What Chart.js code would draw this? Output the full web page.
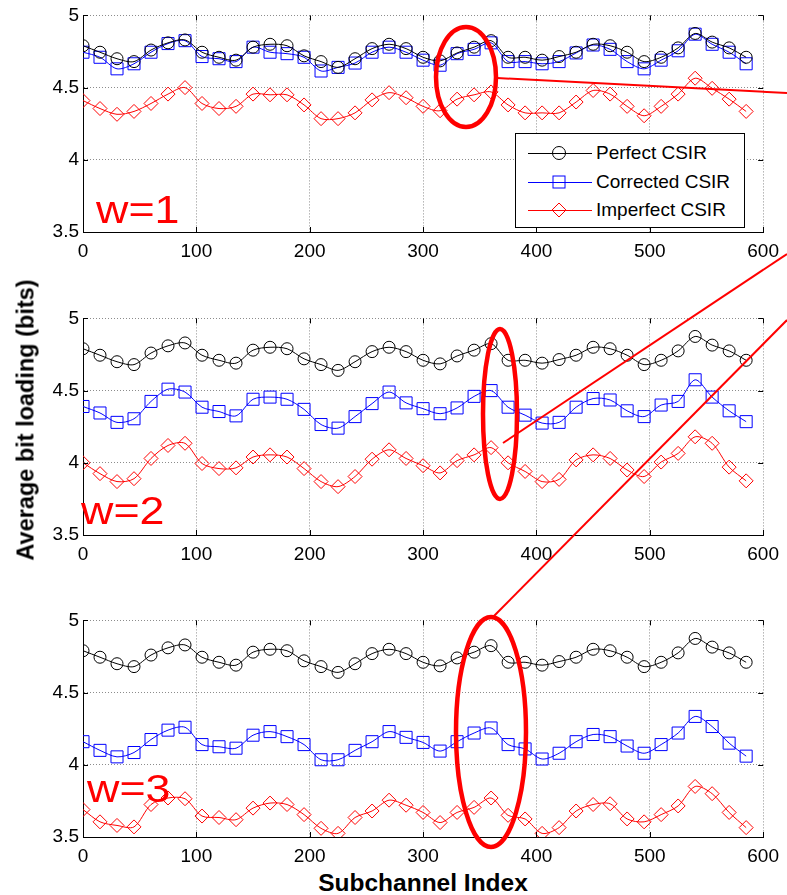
<!DOCTYPE html>
<html>
<head>
<meta charset="utf-8">
<script src="https://cdn.jsdelivr.net/npm/chart.js@4"></script>
<style>
    html, body { margin: 0; padding: 0; background: #fff; }
    body { width: 787px; height: 895px; position: relative; overflow: hidden; font-family: "Liberation Sans", Arial, sans-serif; }
    .plot { position: absolute; left: 0; width: 787px; height: 260px; }
    .wlabel { position: absolute; color: #ff0000; font-size: 38px; line-height: 1; transform: scaleX(1.18); transform-origin: left top; }
    #ylabel { position: absolute; left: 26px; top: 420px; transform: translate(-50%, -50%) rotate(-90deg); font-weight: bold; font-size: 23.5px; white-space: nowrap; }
    #xlabel { position: absolute; left: 423px; top: 883px; transform: translate(-50%, -50%); font-weight: bold; font-size: 24.5px; white-space: nowrap; }
    #legend { position: absolute; left: 515px; top: 133px; width: 228px; height: 93px; background: #fff; border: 1px solid #000; font-size: 19px; }
    #legend .row { position: absolute; left: 0; height: 20px; display: flex; align-items: center; white-space: nowrap; }
    #legend svg { margin-left: 12px; margin-right: 4px; }
    #notes { position: absolute; left: 0; top: 0; pointer-events: none; }
</style>
</head>
<body>
<div class="plot" style="top:0px"><canvas id="plot-w1"></canvas></div>
<div class="plot" style="top:303px"><canvas id="plot-w2"></canvas></div>
<div class="plot" style="top:605px"><canvas id="plot-w3"></canvas></div>

<div class="wlabel" style="left:96px; top:191px">w=1</div>
<div class="wlabel" style="left:81px; top:492px">w=2</div>
<div class="wlabel" style="left:87px; top:770px">w=3</div>

<div id="ylabel">Average bit loading (bits)</div>
<div id="xlabel">Subchannel Index</div>

<div id="legend"></div>

<svg id="notes" width="787" height="895">
    <g fill="none" stroke="#ff0000">
        <ellipse cx="466" cy="77" rx="30" ry="50" stroke-width="4.5"/>
        <line x1="497" y1="78" x2="787" y2="93" stroke-width="2"/>
        <ellipse cx="500" cy="414" rx="17" ry="85" stroke-width="4.5"/>
        <line x1="503" y1="443" x2="787" y2="254" stroke-width="2"/>
        <ellipse cx="491" cy="732" rx="35" ry="115" stroke-width="4.5"/>
        <line x1="493" y1="617" x2="787" y2="320" stroke-width="2"/>
    </g>
</svg>

<script>
// subchannel index of every marker
const subchannels = [
    0, 15, 30, 45, 60, 75, 90, 105, 120, 135,
    150, 165, 180, 195, 210, 225, 240, 255, 270, 285,
    300, 315, 330, 345, 360, 375, 390, 405, 420, 435,
    450, 465, 480, 495, 510, 525, 540, 555, 570, 585
];

const xTicks = [0, 100, 200, 300, 400, 500, 600];
const yTicks = [3.5, 4, 4.5, 5];

// perfect CSIR is the same in all three panels
const perfectCsir = [
    4.79, 4.745, 4.70, 4.68, 4.76, 4.81, 4.83, 4.745, 4.71, 4.69,
    4.78, 4.80, 4.79, 4.72, 4.68, 4.64, 4.70, 4.77, 4.80, 4.77,
    4.71, 4.685, 4.74, 4.78, 4.825, 4.71, 4.71, 4.69, 4.715, 4.745,
    4.80, 4.79, 4.745, 4.68, 4.71, 4.775, 4.875, 4.815, 4.775, 4.71
];

const correctedW1 = [
    4.745, 4.71, 4.63, 4.665, 4.745, 4.805, 4.825, 4.715, 4.70, 4.68,
    4.78, 4.745, 4.735, 4.71, 4.615, 4.64, 4.67, 4.745, 4.78, 4.745,
    4.69, 4.655, 4.735, 4.765, 4.81, 4.68, 4.68, 4.665, 4.68, 4.74,
    4.795, 4.765, 4.68, 4.63, 4.69, 4.755, 4.87, 4.80, 4.745, 4.665
];
const imperfectW1 = [
    4.41, 4.355, 4.315, 4.335, 4.39, 4.455, 4.50, 4.39, 4.355, 4.37,
    4.455, 4.45, 4.45, 4.38, 4.285, 4.285, 4.325, 4.415, 4.465, 4.43,
    4.37, 4.34, 4.42, 4.45, 4.47, 4.38, 4.325, 4.325, 4.325, 4.40,
    4.48, 4.455, 4.37, 4.305, 4.37, 4.455, 4.565, 4.495, 4.42, 4.335
];

const correctedW2 = [
    4.39, 4.345, 4.28, 4.305, 4.425, 4.51, 4.49, 4.385, 4.355, 4.325,
    4.44, 4.455, 4.44, 4.37, 4.265, 4.24, 4.32, 4.41, 4.49, 4.415,
    4.375, 4.34, 4.38, 4.46, 4.50, 4.385, 4.33, 4.275, 4.28, 4.385,
    4.445, 4.435, 4.36, 4.32, 4.40, 4.425, 4.575, 4.455, 4.36, 4.285
];
const imperfectW2 = [
    4.00, 3.925, 3.87, 3.89, 4.03, 4.12, 4.135, 3.995, 3.96, 3.965,
    4.04, 4.055, 4.04, 3.96, 3.87, 3.835, 3.905, 4.025, 4.09, 4.03,
    3.98, 3.93, 4.015, 4.055, 4.105, 4.00, 3.94, 3.87, 3.885, 4.02,
    4.055, 4.03, 3.95, 3.905, 4.005, 4.065, 4.18, 4.135, 3.97, 3.875
];

const correctedW3 = [
    4.16, 4.10, 4.055, 4.085, 4.175, 4.24, 4.26, 4.14, 4.125, 4.115,
    4.205, 4.23, 4.195, 4.14, 4.035, 4.035, 4.10, 4.16, 4.23, 4.19,
    4.155, 4.095, 4.16, 4.22, 4.255, 4.14, 4.11, 4.04, 4.08, 4.16,
    4.21, 4.195, 4.13, 4.08, 4.14, 4.22, 4.335, 4.265, 4.15, 4.06
];
const imperfectW3 = [
    3.69, 3.605, 3.58, 3.57, 3.725, 3.77, 3.765, 3.645, 3.635, 3.62,
    3.70, 3.735, 3.725, 3.655, 3.56, 3.525, 3.635, 3.68, 3.755, 3.72,
    3.67, 3.60, 3.67, 3.705, 3.77, 3.65, 3.625, 3.525, 3.565, 3.68,
    3.725, 3.73, 3.625, 3.605, 3.655, 3.715, 3.85, 3.80, 3.67, 3.565
];

const seriesStyles = [
    { label: 'Perfect CSIR', color: '#000000', pointStyle: 'circle', radius: 6 },
    { label: 'Corrected CSIR', color: '#0000ff', pointStyle: 'rect', radius: 8.5 },
    { label: 'Imperfect CSIR', color: '#ff0000', pointStyle: 'rectRot', radius: 7 }
];

const FONT = '"Liberation Sans", Arial, sans-serif';

// MATLAB-like small tick marks pointing into the box
const innerTicks = {
    id: 'innerTicks',
    afterDraw(chart) {
        const { ctx, chartArea: a, scales } = chart;
        ctx.save();
        ctx.strokeStyle = '#000';
        ctx.lineWidth = 1;
        ctx.beginPath();
        for (const v of xTicks) {
            const x = Math.round(scales.x.getPixelForValue(v)) + 0.5;
            ctx.moveTo(x, a.bottom); ctx.lineTo(x, a.bottom - 5);
            ctx.moveTo(x, a.top); ctx.lineTo(x, a.top + 5);
        }
        for (const v of yTicks) {
            const y = Math.round(scales.y.getPixelForValue(v)) + 0.5;
            ctx.moveTo(a.left, y); ctx.lineTo(a.left + 5, y);
            ctx.moveTo(a.right, y); ctx.lineTo(a.right - 5, y);
        }
        ctx.stroke();
        ctx.restore();
    }
};

function toPoints(values) {
    return values.map((v, i) => ({ x: subchannels[i], y: v }));
}

function initPanel(elementId, corrected, imperfect) {
    const seriesData = [perfectCsir, corrected, imperfect];

    return new Chart(document.getElementById(elementId), {
        type: 'line',
        data: {
            datasets: seriesStyles.map((s, i) => ({
                label: s.label,
                data: toPoints(seriesData[i]),
                borderColor: s.color,
                backgroundColor: 'rgba(0,0,0,0)',
                borderWidth: 1,
                pointStyle: s.pointStyle,
                pointRadius: s.radius,
                pointBorderColor: s.color,
                pointBackgroundColor: 'rgba(0,0,0,0)',
                pointBorderWidth: 1,
                tension: 0.3,
                fill: false
            }))
        },
        options: {
            responsive: false,
            animation: false,
            layout: {
                padding: { left: 40, right: 20, top: 15, bottom: 0 }
            },
            plugins: {
                legend: { display: false },
                tooltip: { enabled: false }
            },
            scales: {
                x: {
                    type: 'linear',
                    min: 0,
                    max: 600,
                    afterFit: s => { s.height = 28; },
                    afterBuildTicks: s => { s.ticks = xTicks.map(v => ({ value: v })); },
                    grid: { color: '#8c8c8c', drawTicks: false },
                    border: { color: '#000', width: 1, dash: [1, 2] },
                    ticks: { color: '#000', padding: 8, font: { family: FONT, size: 19 } }
                },
                y: {
                    min: 3.5,
                    max: 5,
                    afterFit: s => { s.width = 43; },
                    afterBuildTicks: s => { s.ticks = yTicks.map(v => ({ value: v })); },
                    grid: { color: '#8c8c8c', drawTicks: false },
                    border: { color: '#000', width: 1, dash: [1, 2] },
                    ticks: {
                        color: '#000',
                        padding: 4,
                        font: { family: FONT, size: 19 },
                        callback: v => String(v)
                    }
                }
            }
        },
        plugins: [innerTicks]
    });
}

function buildLegend() {
    const box = document.getElementById('legend');
    seriesStyles.forEach((s, i) => {
        const row = document.createElement('div');
        row.className = 'row';
        row.style.top = (9 + i * 28.5) + 'px';
        let marker;
        if (s.pointStyle === 'circle') {
            marker = `<circle cx="31" cy="10" r="6.5" fill="none" stroke="${s.color}"/>`;
        } else if (s.pointStyle === 'rect') {
            marker = `<rect x="25" y="4" width="12" height="12" fill="none" stroke="${s.color}"/>`;
        } else {
            marker = `<path d="M31 3 L38 10 L31 17 L24 10 Z" fill="none" stroke="${s.color}"/>`;
        }
        row.innerHTML = `<svg width="64" height="20"><line x1="0" y1="10.5" x2="64" y2="10.5" stroke="${s.color}"/>${marker}</svg><span>${s.label}</span>`;
        box.appendChild(row);
    });
}

window.addEventListener('load', () => {
    for (const id of ['plot-w1', 'plot-w2', 'plot-w3']) {
        const c = document.getElementById(id);
        c.width = 787;
        c.height = 260;
    }
    initPanel('plot-w1', correctedW1, imperfectW1);
    initPanel('plot-w2', correctedW2, imperfectW2);
    initPanel('plot-w3', correctedW3, imperfectW3);
    buildLegend();
});
</script>
</body>
</html>
